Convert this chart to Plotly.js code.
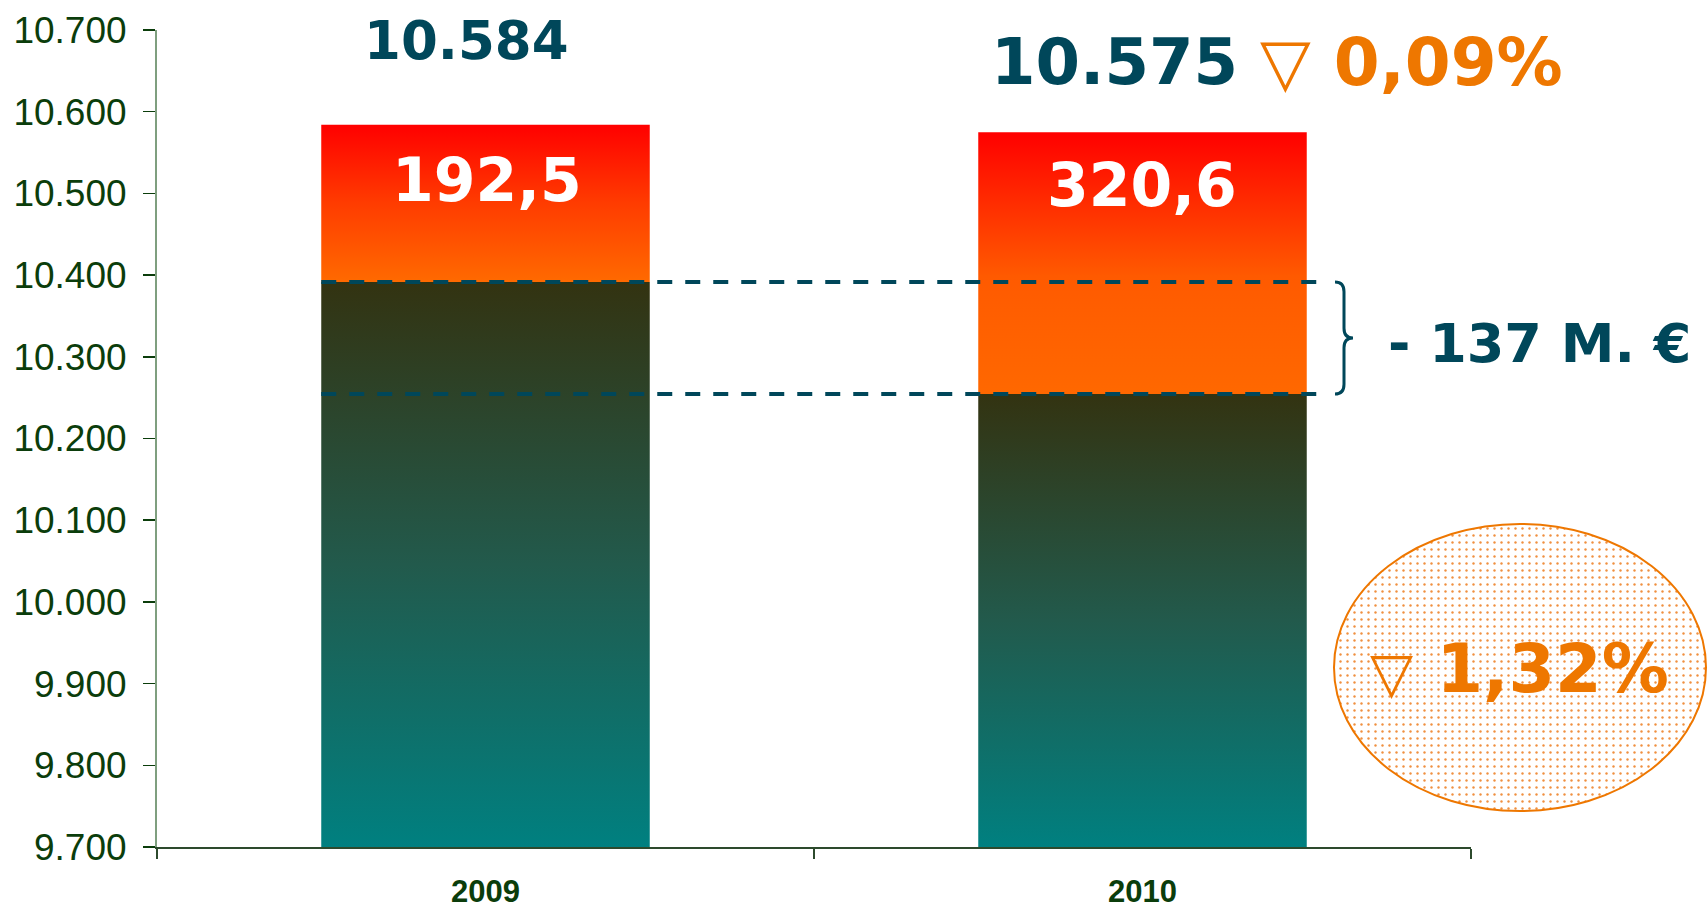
<!DOCTYPE html>
<html>
<head>
<meta charset="utf-8">
<script src="https://cdn.plot.ly/plotly-3.0.1.min.js"></script>
<style>html,body{margin:0;padding:0;background:#fff;}#chart{width:1708px;height:910px;}</style>
</head>
<body>
<div id="chart"></div>
<script>
// ---- data ----
const years = ['2009', '2010'];
const totals = [10584, 10575];          // total bar height
const upperPart = [192.5, 320.6];       // red/orange upper segment
const yTickVals = [9700, 9800, 9900, 10000, 10100, 10200, 10300, 10400, 10500, 10600, 10700];
const yTickText = ['9.700', '9.800', '9.900', '10.000', '10.100', '10.200', '10.300', '10.400', '10.500', '10.600', '10.700'];

const lowerPart = totals.map((t, i) => t - upperPart[i]);
const yFloor = yTickVals[0];
const yTop = yTickVals[yTickVals.length - 1];

// ---- formatting helpers ----
const fmtInt = n => Math.round(n).toString().replace(/\B(?=(\d{3})+(?!\d))/g, '.');
const fmtDec = (n, d) => n.toFixed(d).replace('.', ',');
const pctTotal = Math.abs((totals[1] - totals[0]) / totals[0] * 100);
const pctLower = Math.abs((lowerPart[1] - lowerPart[0]) / lowerPart[0] * 100);
const diffLower = Math.round(lowerPart[1] - lowerPart[0]);

// ---- layout geometry (pixels) ----
const L = 157, R = 1471, T = 30, B = 847;
const px = x => (x - L) / (R - L);
const py = y => (B - y) / (B - T);
const barWidth = 0.5;

const navy = '#00475a';
const orange = '#ee7700';
const green = '#0b3d0b';

const traces = [
  {
    type: 'bar', x: years, y: lowerPart.map(v => v - yFloor), base: years.map(() => yFloor),
    width: barWidth, marker: {color: '#1a5a50', line: {width: 0}}, hoverinfo: 'skip'
  },
  {
    type: 'bar', x: years, y: upperPart, base: lowerPart,
    width: barWidth, marker: {color: '#ff4400', line: {width: 0}}, hoverinfo: 'skip'
  }
];

const d = 12; // brace curl (data units)
const yT = lowerPart[0], yB = lowerPart[1], yM = (yT + yB) / 2;
const xa = px(1335), xb = px(1344), xc = px(1353);
const bracePath = `M ${xa},${yT} Q ${xb},${yT} ${xb},${yT - d} L ${xb},${yM + d} Q ${xb},${yM} ${xc},${yM} Q ${xb},${yM} ${xb},${yM - d} L ${xb},${yB + d} Q ${xb},${yB} ${xa},${yB}`;

const dashX0 = 0 - barWidth / 2;
const dashX1 = 1.273;

const shapes = [
  {type: 'line', xref: 'x', yref: 'y', x0: dashX0, x1: dashX1, y0: lowerPart[0], y1: lowerPart[0],
   line: {color: navy, width: 4, dash: '15px,13px'}, layer: 'above'},
  {type: 'line', xref: 'x', yref: 'y', x0: dashX0, x1: dashX1, y0: lowerPart[1], y1: lowerPart[1],
   line: {color: navy, width: 4, dash: '15px,13px'}, layer: 'above'},
  {type: 'path', xref: 'paper', yref: 'y', path: bracePath, line: {color: navy, width: 3}, layer: 'above'},
  {type: 'circle', xref: 'paper', yref: 'paper', x0: px(1334), x1: px(1706), y0: py(811), y1: py(524),
   line: {color: orange, width: 2}, fillcolor: '#fde3c8', layer: 'above'}
];

const bold = (size, color) => ({family: 'DejaVu Sans', size: size, color: color, weight: 700});

const annotations = [
  {xref: 'paper', yref: 'paper', x: px(466), y: py(40), text: fmtInt(totals[0]),
   font: bold(53, navy), showarrow: false, xanchor: 'center', yanchor: 'middle'},
  {xref: 'paper', yref: 'paper', x: px(989), y: py(62), text: fmtInt(totals[1]),
   font: bold(64, navy), showarrow: false, xanchor: 'left', yanchor: 'middle'},
  {xref: 'paper', yref: 'paper', x: px(1258), y: py(62),
   text: '<span style="font-weight:400">▽</span> ' + fmtDec(pctTotal, 2) + '%',
   font: bold(66, orange), showarrow: false, xanchor: 'left', yanchor: 'middle'},
  {xref: 'paper', yref: 'paper', x: px(487), y: py(180), text: fmtDec(upperPart[0], 1),
   font: bold(60, '#ffffff'), showarrow: false, xanchor: 'center', yanchor: 'middle'},
  {xref: 'paper', yref: 'paper', x: px(1142), y: py(185), text: fmtDec(upperPart[1], 1),
   font: bold(60, '#ffffff'), showarrow: false, xanchor: 'center', yanchor: 'middle'},
  {xref: 'paper', yref: 'paper', x: px(1386), y: py(343), text: (diffLower < 0 ? '- ' : '+ ') + Math.abs(diffLower) + ' M. €',
   font: bold(54, navy), showarrow: false, xanchor: 'left', yanchor: 'middle'},
  {xref: 'paper', yref: 'paper', x: px(1368), y: py(669),
   text: '<span style="font-weight:400;font-size:56px">▽</span> ' + fmtDec(pctLower, 2) + '%',
   font: bold(67, orange), showarrow: false, xanchor: 'left', yanchor: 'middle'}
];

const layout = {
  width: 1708, height: 910,
  margin: {l: L, r: 1708 - R, t: T, b: 910 - B, pad: 0},
  paper_bgcolor: '#ffffff', plot_bgcolor: '#ffffff',
  barmode: 'overlay',
  showlegend: false,
  xaxis: {
    type: 'category', range: [-0.5, 1.5], showline: true, linecolor: '#2d4a2d', linewidth: 1.5,
    ticks: 'outside', tickson: 'boundaries', ticklen: 10, tickcolor: '#2d4a2d', tickwidth: 1.5,
    tickfont: {family: 'Liberation Sans', size: 31, color: green, weight: 700},
    ticklabelstandoff: 16, showgrid: false, zeroline: false, fixedrange: true
  },
  yaxis: {
    range: [yFloor, yTop], tickvals: yTickVals, ticktext: yTickText,
    showline: true, linecolor: '#7f9f7f', linewidth: 2,
    ticks: 'outside', ticklen: 12, tickcolor: green, tickwidth: 1.5,
    tickfont: {family: 'Liberation Sans', size: 37, color: green},
    ticklabelstandoff: 9, showgrid: false, zeroline: false, fixedrange: true
  },
  shapes: shapes,
  annotations: annotations
};

const SVGNS = 'http://www.w3.org/2000/svg';
function makeGrad(defs, id, stops) {
  const g = document.createElementNS(SVGNS, 'linearGradient');
  g.setAttribute('id', id);
  g.setAttribute('x1', '0'); g.setAttribute('y1', '0');
  g.setAttribute('x2', '0'); g.setAttribute('y2', '1');
  stops.forEach(s => {
    const st = document.createElementNS(SVGNS, 'stop');
    st.setAttribute('offset', s[0]);
    st.setAttribute('stop-color', s[1]);
    g.appendChild(st);
  });
  defs.appendChild(g);
}

Plotly.newPlot('chart', traces, layout, {displayModeBar: false, staticPlot: true}).then(gd => {
  const svg = gd.querySelector('.main-svg');
  let defs = svg.querySelector('defs');
  if (!defs) { defs = document.createElementNS(SVGNS, 'defs'); svg.insertBefore(defs, svg.firstChild); }
  makeGrad(defs, 'gBot', [[0, '#333311'], [0.5, '#225a4c'], [1, '#008080']]);
  makeGrad(defs, 'gTop0', [[0, '#ff0000'], [0.5, '#ff3c00'], [1, '#ff6a00']]);
  makeGrad(defs, 'gTop1', [[0, '#ff0000'], [0.55, '#ff5a00'], [1, '#ff6800']]);
  const pat = document.createElementNS(SVGNS, 'pattern');
  pat.setAttribute('id', 'dots');
  pat.setAttribute('patternUnits', 'userSpaceOnUse');
  pat.setAttribute('width', '7'); pat.setAttribute('height', '7');
  const bg = document.createElementNS(SVGNS, 'rect');
  bg.setAttribute('width', '7'); bg.setAttribute('height', '7'); bg.setAttribute('fill', '#ffffff');
  pat.appendChild(bg);
  const c = document.createElementNS(SVGNS, 'circle');
  c.setAttribute('cx', '3.5'); c.setAttribute('cy', '3.5'); c.setAttribute('r', '1.2'); c.setAttribute('fill', '#f09040');
  pat.appendChild(c);
  defs.appendChild(pat);

  const barTraces = gd.querySelectorAll('.barlayer .trace');
  if (barTraces.length >= 2) {
    barTraces[0].querySelectorAll('.point path').forEach(p => { p.style.fill = 'url(#gBot)'; });
    barTraces[1].querySelectorAll('.point path').forEach((p, i) => { p.style.fill = 'url(#gTop' + i + ')'; });
  }
  gd.querySelectorAll('.shapelayer path[data-index="3"]').forEach(p => {
    p.style.fill = 'url(#dots)'; p.style.fillOpacity = 1;
  });
});
</script>
</body>
</html>
